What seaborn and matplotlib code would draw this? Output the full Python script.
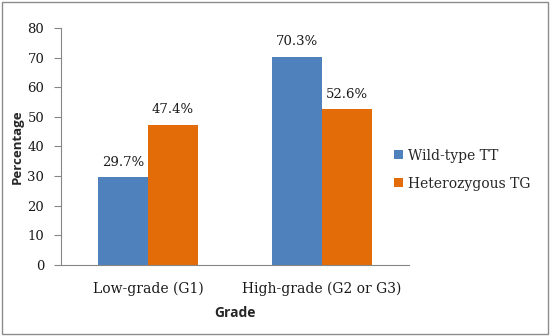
import matplotlib.pyplot as plt
import matplotlib.patches as patches
import numpy as np
import pandas as pd
import seaborn as sns

grades = ["Low-grade (G1)", "High-grade (G2 or G3)"]
genotypes = ["Wild-type TT", "Heterozygous TG"]
wild_type = [29.7, 70.3]
heterozygous = [47.4, 52.6]
y_ticks = [0, 10, 20, 30, 40, 50, 60, 70, 80]

colors = ["#4F81BD", "#E36C09"]
serif = "DejaVu Serif"
axis_grey = "#868686"

df = pd.DataFrame(
    {
        "grade": grades * 2,
        "genotype": [genotypes[0]] * 2 + [genotypes[1]] * 2,
        "value": wild_type + heterozygous,
    }
)

sns.set_style("white")
fig = plt.figure(figsize=(5.5, 3.36), dpi=100)
ax = fig.add_axes([0.1109, 0.2113, 0.6327, 0.7054])

sns.barplot(
    data=df, x="grade", y="value", hue="genotype", order=grades,
    hue_order=genotypes, palette=colors, width=0.57, gap=0,
    saturation=1, ax=ax, legend=False, edgecolor="none",
)

for container in ax.containers:
    labels = [f"{v:.1f}%" for v in container.datavalues]
    ax.bar_label(container, labels=labels, padding=6, family=serif,
                 fontsize=9.5, color="#1a1a1a")

ax.set_ylim(0, 80)
ax.set_yticks(y_ticks)
ax.set_xlim(-0.5, 1.5)
ax.set_xticks([0, 1])
ax.set_xticklabels(grades)
ax.set_xticks([-0.5, 0.5, 1.5], minor=True)
ax.tick_params(axis="x", which="major", length=0, pad=12)
ax.tick_params(axis="x", which="minor", length=4, color=axis_grey, width=0.8)
ax.tick_params(axis="y", length=5, color=axis_grey, width=0.8, pad=7, left=True)
for lab in ax.get_xticklabels():
    lab.set_family(serif)
    lab.set_fontsize(10)
    lab.set_color("#1a1a1a")
for lab in ax.get_yticklabels():
    lab.set_family(serif)
    lab.set_fontsize(9.5)
    lab.set_color("#1a1a1a")

for side in ["top", "right"]:
    ax.spines[side].set_visible(False)
for side in ["left", "bottom"]:
    ax.spines[side].set_color(axis_grey)
    ax.spines[side].set_linewidth(0.8)

ax.set_xlabel("Grade", fontsize=10, fontweight="bold", family="Open Sans", labelpad=7)
ax.set_ylabel("Percentage", fontsize=9.5, fontweight="bold", family="Open Sans", labelpad=3)

handles = [patches.Patch(facecolor=c, edgecolor="none") for c in colors]
fig.legend(
    handles, genotypes, loc="center left", bbox_to_anchor=(0.694, 0.495),
    frameon=False, handlelength=0.6, handleheight=0.6, handletextpad=0.4,
    labelspacing=1.0, prop={"family": serif, "size": 10},
)

border = patches.Rectangle(
    (0.004, 0.006), 0.992, 0.988, transform=fig.transFigure,
    fill=False, edgecolor="#8c8c8c", linewidth=1,
)
fig.patches.append(border)

fig.savefig("out.png", dpi=100)
